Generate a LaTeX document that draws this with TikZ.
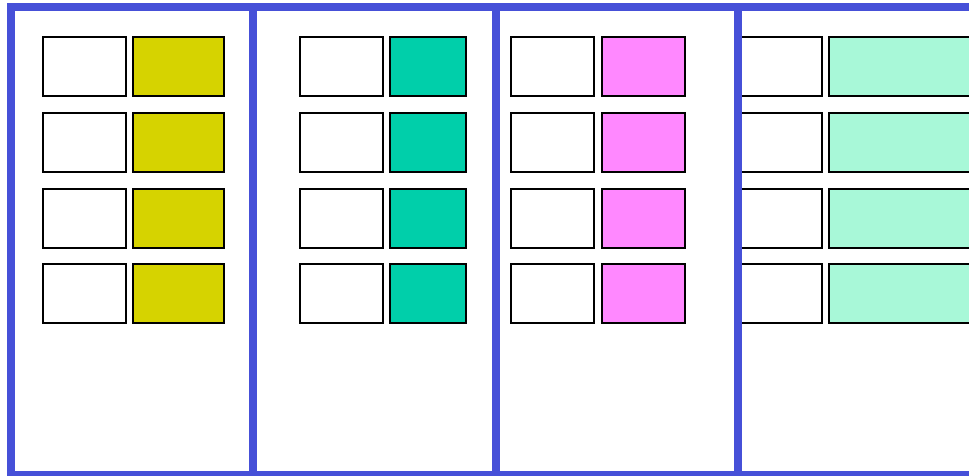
\documentclass[tikz,border=0pt]{standalone}
\definecolor{frameblue}{RGB}{70,80,216}
\definecolor{cyellow}{RGB}{214,211,0}
\definecolor{cteal}{RGB}{0,207,170}
\definecolor{cpink}{RGB}{255,136,255}
\definecolor{cmint}{RGB}{168,248,216}
\tikzset{
  cell/.style={draw=black, line width=2pt, minimum height=59pt, inner sep=0pt, outer sep=0pt},
  frameline/.style={draw=frameblue, line width=8pt}
}
\begin{document}
\begin{tikzpicture}[x=1pt,y=-1pt]
\useasboundingbox (0,0) rectangle (969,475);
\clip (0,0) rectangle (969,475);
\fill[white] (0,0) rectangle (969,475);
\foreach \r/\y in {1/66.5,2/142.5,3/218,4/293.5}{
  \node[cell, fill=white, minimum width=83pt] (a\r) at (84,\y) {};
  \node[cell, fill=cyellow, minimum width=90.5pt] (b\r) at (178.25,\y) {};
  \node[cell, fill=white, minimum width=83pt] (c\r) at (341,\y) {};
  \node[cell, fill=cteal, minimum width=76pt] (d\r) at (427.7,\y) {};
  \node[cell, fill=white, minimum width=83pt] (e\r) at (552.5,\y) {};
  \node[cell, fill=cpink, minimum width=83.3pt] (f\r) at (643.3,\y) {};
  \node[cell, fill=white, minimum width=82pt] (g\r) at (780.5,\y) {};
  \node[cell, fill=cmint, minimum width=170pt] (h\r) at (914,\y) {};
}
\coordinate (tl) at (11,6.5);
\coordinate (br) at (1000,474.5);
\draw[frameline] (tl) rectangle (br);
\coordinate (d1t) at (253,6.5);
\coordinate (d1b) at (253,474.5);
\coordinate (d2t) at (495.5,6.5);
\coordinate (d2b) at (495.5,474.5);
\coordinate (d3t) at (737.5,6.5);
\coordinate (d3b) at (737.5,474.5);
\draw[frameline] (d1t) -- (d1b);
\draw[frameline] (d2t) -- (d2b);
\draw[frameline] (d3t) -- (d3b);
\end{tikzpicture}
\end{document}
